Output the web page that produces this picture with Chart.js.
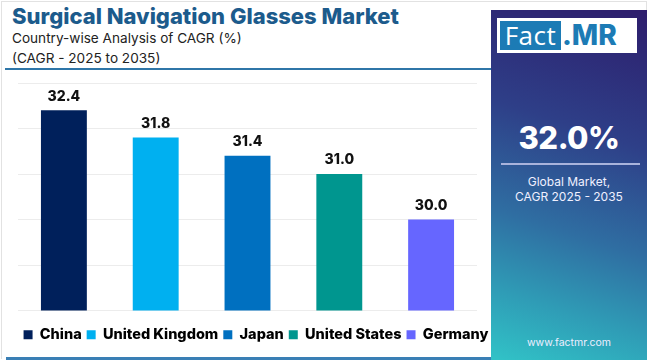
<!DOCTYPE html>
<html>
<head>
<meta charset="utf-8">
<script src="https://cdn.jsdelivr.net/npm/chart.js@4.4.1/dist/chart.umd.min.js"></script>
<style>
  html,body{margin:0;padding:0;background:#fff;}
  #wrap{position:relative;width:650px;height:360px;overflow:hidden;background:#fff;font-family:"Inter","Open Sans",sans-serif;}
  #frame{position:absolute;left:1px;top:1px;width:646px;height:358px;border:1px solid #e2e2e2;border-bottom:none;box-sizing:border-box;}
  #title{position:absolute;left:12px;top:3px;font-size:22px;font-weight:800;color:#1c5b8c;white-space:nowrap;}
  #sub1{position:absolute;left:12px;top:30px;font-size:13.6px;color:#222;white-space:nowrap;}
  #sub2{position:absolute;left:12px;top:50px;font-size:13.6px;color:#222;white-space:nowrap;}
  #topline{position:absolute;left:5px;top:68px;width:486px;height:2px;background:#2f76a8;}
  #botline{position:absolute;left:6px;top:357px;width:486px;height:3px;background:#3a7fb5;}
  #chartbox{position:absolute;left:0;top:72px;width:512px;height:280px;}
  #panel{position:absolute;left:491px;top:10px;width:156px;height:350px;z-index:5;
    background:linear-gradient(198deg,#2d1d6c 0%,#2e3f88 35%,#2f6ea2 62%,#2f9cb6 82%,#31c3c7 100%);}
  #logo{position:absolute;left:6px;top:8px;width:140px;height:35px;background:#fff;}
  #logo .f{position:absolute;left:3px;top:3px;width:61px;height:29px;background:#1c7bb5;color:#fff;font-family:"Open Sans",sans-serif;font-size:26px;line-height:29px;text-align:center;letter-spacing:0.5px;}
  #logo .m{position:absolute;left:65px;top:3px;width:74px;height:29px;color:#1c7bb5;font-family:"Inter",sans-serif;font-weight:800;font-size:28px;line-height:29px;text-align:left;}
  #big{position:absolute;left:0;width:156px;top:109px;text-align:center;color:#fff;font-size:31px;font-weight:800;letter-spacing:-0.5px;font-family:"Inter",sans-serif;}
  #pline{position:absolute;left:10px;top:153px;width:139px;height:2px;background:#a9b3dc;}
  #gm{position:absolute;left:0;width:156px;top:164px;text-align:center;color:#f0f0ff;font-size:12px;line-height:15px;}
  #url{position:absolute;left:0;width:156px;top:326px;text-align:center;color:#eef;font-size:10.5px;}
</style>
</head>
<body>
<div id="wrap">
  <div id="frame"></div>
  <div id="title">Surgical Navigation Glasses Market</div>
  <div id="sub1">Country-wise Analysis of CAGR (%)</div>
  <div id="sub2">(CAGR - 2025 to 2035)</div>
  <div id="topline"></div>
  <div id="chartbox"><canvas id="c"></canvas></div>
  <div id="botline"></div>
  <div id="panel">
    <div id="logo"><div class="f">Fact</div><div class="m">.MR</div></div>
    <div id="big">32.0%</div>
    <div id="pline"></div>
    <div id="gm">Global Market,<br>CAGR 2025 - 2035</div>
    <div id="url">www.factmr.com</div>
  </div>
</div>
<script>
const countries = ["China", "United Kingdom", "Japan", "United States", "Germany"];
const cagrValues = [32.4, 31.8, 31.4, 31.0, 30.0];
const barColors = ["#00205b", "#00b0f0", "#0070c0", "#00968f", "#6666ff"];
const yTicks = [28, 29, 30, 31, 32, 33];

const labelPlugin = {
  id: "barLabels",
  afterDatasetsDraw(chart) {
    const ctx = chart.ctx;
    const meta = chart.getDatasetMeta(0);
    ctx.save();
    ctx.font = "800 14px Inter, sans-serif";
    ctx.fillStyle = "#111";
    ctx.textAlign = "center";
    ctx.textBaseline = "bottom";
    meta.data.forEach((bar, i) => {
      ctx.fillText(cagrValues[i].toFixed(1), bar.x, bar.y - 7);
    });
    ctx.restore();
  }
};

new Chart(document.getElementById("c"), {
  type: "bar",
  data: {
    labels: countries,
    datasets: [{
      data: cagrValues,
      backgroundColor: barColors,
      borderWidth: 0,
      barPercentage: 0.5,
      categoryPercentage: 1.0
    }]
  },
  options: {
    responsive: true,
    maintainAspectRatio: false,
    animation: false,
    layout: { padding: { top: 11, bottom: 0, left: 0, right: 0 } },
    plugins: {
      tooltip: { enabled: false },
      legend: {
        position: "bottom",
        align: "center",
        labels: {
          boxWidth: 9,
          boxHeight: 9,
          padding: 5,
          color: "#111",
          font: { family: "Inter, sans-serif", size: 14.5, weight: "800" },
          generateLabels(chart) {
            return countries.map((name, i) => ({
              text: name,
              fillStyle: barColors[i],
              strokeStyle: barColors[i],
              lineWidth: 0,
              hidden: false,
              index: i
            }));
          }
        }
      }
    },
    scales: {
      x: {
        afterFit(scale) { scale.height = 12; },
        grid: { display: false, drawTicks: false },
        border: { display: false },
        ticks: { display: false }
      },
      y: {
        min: yTicks[0],
        max: yTicks[yTicks.length - 1],
        afterBuildTicks(scale) { scale.ticks = yTicks.map(v => ({ value: v })); },
        afterFit(scale) { scale.width = 18; },
        grid: { color: "#ececec", lineWidth: 1, drawTicks: false },
        border: { display: false },
        ticks: { display: false }
      },
      y2: {
        position: "right",
        afterFit(scale) { scale.width = 35; },
        grid: { display: false, drawTicks: false },
        border: { display: false },
        ticks: { display: false }
      }
    }
  },
  plugins: [labelPlugin]
});
</script>
</body>
</html>
